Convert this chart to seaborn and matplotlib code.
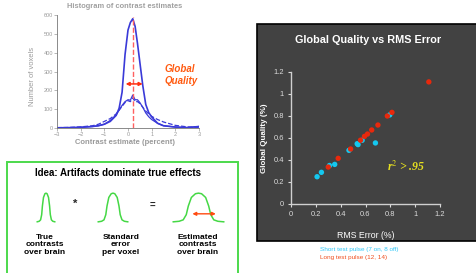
import matplotlib
matplotlib.use("Agg")
import matplotlib.pyplot as plt
from matplotlib.patches import Rectangle
import seaborn as sns

# histogram of contrast estimates
hist_x = [-3, -2.5, -2, -1.5, -1.25, -1, -0.75, -0.5, -0.375, -0.25, -0.125, 0,
          0.1, 0.2, 0.3, 0.4, 0.5, 0.625, 0.75, 0.875, 1, 1.25, 1.5, 2, 2.5, 3]
hist_tall = [1, 2, 4, 8, 12, 20, 35, 67, 105, 190, 390, 520,
             560, 580, 540, 450, 350, 225, 125, 82, 59, 25, 12, 5, 2, 8]
hist_low = [0, 1, 3, 8, 12, 20, 40, 70, 95, 120, 140, 150,
            148, 175, 150, 150, 135, 110, 80, 60, 45, 25, 12, 5, 2, 8]
hist_dash = [2, 3, 6, 12, 20, 35, 50, 75, 95, 115, 135, 145,
             140, 160, 140, 140, 130, 110, 90, 75, 62, 45, 32, 14, 6, 3]
hist_xticks = [-3, -2, -1, 0, 1, 2, 3]
hist_yticks = [0, 100, 200, 300, 400, 500, 600]
peak_x = 0.2
spread = [-0.1, 0.62]
spread_y = 234

# schematic bell profile
bell_x = [0, 0.12, 0.2, 0.26, 0.3, 0.36, 0.44, 0.5, 0.56, 0.64, 0.7, 0.74, 0.8, 0.88, 1]
bell_y = [0, 0.02, 0.07, 0.25, 0.55, 0.85, 0.98, 1, 0.98, 0.85, 0.55, 0.25, 0.07, 0.02, 0]
bell_labels = ["True\ncontrasts\nover brain", "Standard\nerror\nper voxel",
               "Estimated\ncontrasts\nover brain"]

# global quality vs rms error
short_x = [0.21, 0.245, 0.31, 0.352, 0.467, 0.533, 0.54, 0.573, 0.68, 0.795]
short_y = [0.248, 0.288, 0.35, 0.36, 0.488, 0.548, 0.54, 0.579, 0.555, 0.81]
long_x = [0.30, 0.38, 0.48, 0.56, 0.592, 0.616, 0.65, 0.70, 0.776, 0.813, 1.11]
long_y = [0.336, 0.415, 0.50, 0.58, 0.615, 0.636, 0.673, 0.718, 0.80, 0.833, 1.11]
gq_ticks = [0, 0.2, 0.4, 0.6, 0.8, 1, 1.2]
gq_labels = ["0", "0.2", "0.4", "0.6", "0.8", "1", "1.2"]

sns.set_style("ticks")
plt.rcParams['font.family'] = ['Liberation Sans', 'DejaVu Sans']

W, H = 476, 273
fig = plt.figure(figsize=(W / 100, H / 100), dpi=100)


def rect(x0, y_top, x1, y_bot):
    return [x0 / W, 1 - y_bot / H, (x1 - x0) / W, (y_bot - y_top) / H]


# ---------- histogram ----------
blue = "#3a3ad8"
grey = "#9a9a9a"
ax = fig.add_axes(rect(57, 15, 199, 128))
sns.lineplot(x=hist_x, y=hist_tall, ax=ax, color=blue, lw=1.2)
sns.lineplot(x=hist_x, y=hist_low, ax=ax, color=blue, lw=0.9)
sns.lineplot(x=hist_x, y=hist_dash, ax=ax, color=blue, lw=0.9, linestyle="--")
ax.plot([peak_x, peak_x], [0, 590], color="#ff6060", lw=1.0, ls="--")
ax.annotate("", xy=(spread[0], spread_y), xytext=(spread[1], spread_y),
            arrowprops=dict(arrowstyle="<|-|>", color="#ff3010", lw=1.1,
                            mutation_scale=5, shrinkA=0, shrinkB=0))
ax.set_xlim(-3, 3)
ax.set_ylim(0, 600)
ax.set_xticks(hist_xticks)
ax.set_yticks(hist_yticks)
ax.tick_params(labelsize=4.0, colors=grey, length=2, width=0.5, pad=1)
for s in ["top", "right"]:
    ax.spines[s].set_visible(False)
for s in ["left", "bottom"]:
    ax.spines[s].set_color("#777777")
    ax.spines[s].set_linewidth(0.6)
ax.set_facecolor("none")
fig.text(125 / W, 1 - 7 / H, "Histogram of contrast estimates", ha="center", va="center",
         fontsize=5.4, color="#a0a0a0", fontweight="bold")
fig.text(32 / W, 1 - 77 / H, "Number of voxels", ha="center", va="center",
         rotation=90, fontsize=5.4, color=grey)
fig.text(125 / W, 1 - 143 / H, "Contrast estimate (percent)", ha="center", va="center",
         fontsize=5.5, color=grey, fontweight="bold")
fig.text(180 / W, 1 - 69 / H, "Global", ha="center", va="center", fontsize=7,
         color="#ff5a10", fontweight="bold", style="italic")
fig.text(181 / W, 1 - 81 / H, "Quality", ha="center", va="center", fontsize=7,
         color="#ff5a10", fontweight="bold", style="italic")

# ---------- idea box ----------
fig.patches.append(Rectangle((7 / W, -0.05), 231 / W, (H - 162) / H + 0.05,
                             transform=fig.transFigure, fill=False,
                             edgecolor="#4cd94c", lw=1.4, zorder=-1))
fig.text(118 / W, 1 - 173 / H, "Idea: Artifacts dominate true effects", ha="center",
         va="center", fontsize=7.0, fontweight="bold", color="black")
green = "#45d845"
bells = [(37, 55, 45), (98, 128, 121), (173, 224, 198)]
for (x0, x1, cx), lab in zip(bells, bell_labels):
    bax = fig.add_axes(rect(x0, 192, x1, 223))
    sns.lineplot(x=bell_x, y=bell_y, ax=bax, color=green, lw=1.1)
    bax.set_xlim(0, 1)
    bax.set_ylim(-0.04, 1.04)
    bax.axis("off")
    for line in bax.lines:
        line.set_clip_on(False)
    fig.text(cx / W, 1 - 245 / H, lab, ha="center", va="center", fontsize=6.0,
             fontweight="bold", color="black", linespacing=1.05)
bax.annotate("", xy=(0.38, 0.28), xytext=(0.84, 0.28),
             arrowprops=dict(arrowstyle="<|-|>", color="#ff4a10", lw=1.0,
                             mutation_scale=5, shrinkA=0, shrinkB=0))
fig.text(75 / W, 1 - 204 / H, "*", ha="center", va="center", fontsize=8,
         fontweight="bold")
fig.text(152 / W, 1 - 205 / H, "=", ha="center", va="center", fontsize=7,
         fontweight="bold")

# ---------- global quality panel ----------
fig.patches.append(Rectangle((257 / W, 1 - 241 / H), (W - 257) / W + 0.01, 217 / H,
                             transform=fig.transFigure, facecolor="#424242",
                             edgecolor="black", lw=1.2, zorder=-1))
gx = fig.add_axes(rect(291, 72, 440, 204))
gx.set_facecolor("none")
sns.scatterplot(x=short_x, y=short_y, ax=gx, color="#14c8f0", s=15, edgecolor="none")
sns.scatterplot(x=long_x, y=long_y, ax=gx, color="#e8280c", s=15, edgecolor="none")
gx.set_xlim(0, 1.2)
gx.set_ylim(0, 1.2)
gx.set_xticks(gq_ticks)
gx.set_xticklabels(gq_labels)
gx.set_yticks(gq_ticks)
gx.set_yticklabels(gq_labels)
gx.tick_params(labelsize=5.4, colors="#dcdcdc", length=2, width=0.8, pad=3)
for s in ["top", "right"]:
    gx.spines[s].set_visible(False)
for s in ["left", "bottom"]:
    gx.spines[s].set_color("#d0d0d0")
    gx.spines[s].set_linewidth(1.0)
gx.set_xlabel("RMS Error (%)", fontsize=6.3, color="white")
gx.xaxis.set_label_coords(0.5, -0.205)
gx.set_ylabel("Global Quality (%)", fontsize=5.8, color="white", fontweight="bold")
gx.yaxis.set_label_coords(-0.155, 0.5)
fig.text(368 / W, 1 - 40 / H, "Global Quality vs RMS Error", ha="center", va="center",
         fontsize=7.8, color="white", fontweight="bold")
fig.text(406 / W, 1 - 167 / H, "r$^2$ > .95", ha="center", va="center", fontsize=8.5,
         color="#e6e020", fontweight="bold", style="italic",
         family=["Liberation Serif", "DejaVu Serif"], math_fontfamily="stix")
fig.text(320 / W, 1 - 249 / H, "Short test pulse (7 on, 8 off)", ha="left", va="center",
         fontsize=4.6, color="#30c8f8")
fig.text(320 / W, 1 - 258 / H, "Long test pulse (12, 14)", ha="left", va="center",
         fontsize=4.6, color="#f05020")

fig.savefig("out.png", dpi=100)
